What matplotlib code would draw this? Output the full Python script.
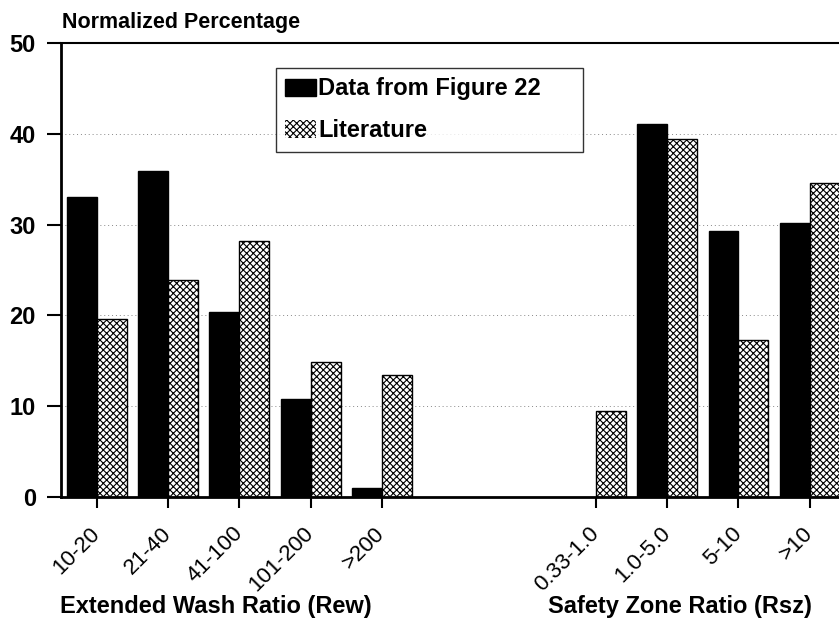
import numpy as np
import matplotlib
matplotlib.use("Agg")
import matplotlib.pyplot as plt
from matplotlib.patches import Patch

# ---- data ----
categories = ["10-20", "21-40", "41-100", "101-200", ">200",
              "0.33-1.0", "1.0-5.0", "5-10", ">10"]
positions = [0, 1, 2, 3, 4, 7, 8, 9, 10]
data_fig22 = [33.0, 35.9, 20.4, 10.8, 1.0, None, 41.1, 29.3, 30.2]
literature = [19.6, 23.9, 28.2, 14.9, 13.4, 9.5, 39.4, 17.3, 34.6]
yticks = [0, 10, 20, 30, 40, 50]
series_names = ["Data from Figure 22", "Literature"]
group_labels = ["Extended Wash Ratio (Rew)", "Safety Zone Ratio (Rsz)"]

plt.rcParams['font.family'] = ['Liberation Sans', 'DejaVu Sans']
plt.rcParams['hatch.color'] = 'black'
plt.rcParams['hatch.linewidth'] = 0.8

W, H = 839, 626
fig = plt.figure(figsize=(W / 100, H / 100), dpi=100)
left_px, right_px, top_px, bot_px = 61, 839, 43, 497
ax = fig.add_axes([left_px / W, 1 - bot_px / H,
                   (right_px - left_px) / W, (bot_px - top_px) / H])

bw = 0.42
bx = [p - bw / 2 for p, v in zip(positions, data_fig22) if v is not None]
bv = [v for v in data_fig22 if v is not None]
ax.bar(bx, bv, width=bw, color='black', edgecolor='black', linewidth=1)
ax.bar([p + bw / 2 for p in positions], literature, width=bw,
       facecolor='white', edgecolor='black', hatch='xxxxx', linewidth=1)

ax.set_xlim(-0.5, 10.41)
ax.set_ylim(0, 50)
ax.set_yticks(yticks)
ax.set_yticklabels([str(t) for t in yticks], fontsize=17, fontweight='bold')
ax.set_xticks(positions)
ax.set_xticklabels(categories, rotation=45, ha='right', va='center',
                   rotation_mode='anchor', fontsize=16)
ax.tick_params(axis='y', direction='out', length=10, width=1.5, pad=8)
ax.tick_params(axis='x', direction='out', length=8, width=1.5, pad=16)

for t in yticks[1:-1]:
    ax.axhline(t, color='#888888', linewidth=0.7, linestyle=(0, (1, 3)), zorder=0)

ax.spines['right'].set_visible(False)
for s in ['left', 'bottom']:
    ax.spines[s].set_linewidth(2)
ax.spines['top'].set_linewidth(1.5)

handles = [Patch(facecolor='black', edgecolor='black'),
           Patch(facecolor='white', edgecolor='black', hatch='xxxxx', linewidth=0)]
leg = fig.legend(handles, series_names, loc='upper left',
                 bbox_to_anchor=(276 / W, 1 - 146 / H, 307 / W, 78 / H),
                 mode='expand', frameon=True, fancybox=False,
                 prop={'weight': 'bold', 'size': 17},
                 handlelength=1.3, handleheight=0.75, handletextpad=0.1,
                 labelspacing=0.8, borderpad=0.4, borderaxespad=0)
leg.get_frame().set_edgecolor('black')
leg.get_frame().set_linewidth(1)

fig.text(62 / W, 1 - 28 / H, "Normalized Percentage", fontsize=15.5,
         fontweight='bold', ha='left', va='baseline')
fig.text(216 / W, 1 - 606 / H, group_labels[0], fontsize=17,
         fontweight='bold', ha='center', va='center')
fig.text(680 / W, 1 - 606 / H, group_labels[1], fontsize=17,
         fontweight='bold', ha='center', va='center')

fig.savefig("out.png", dpi=100)
